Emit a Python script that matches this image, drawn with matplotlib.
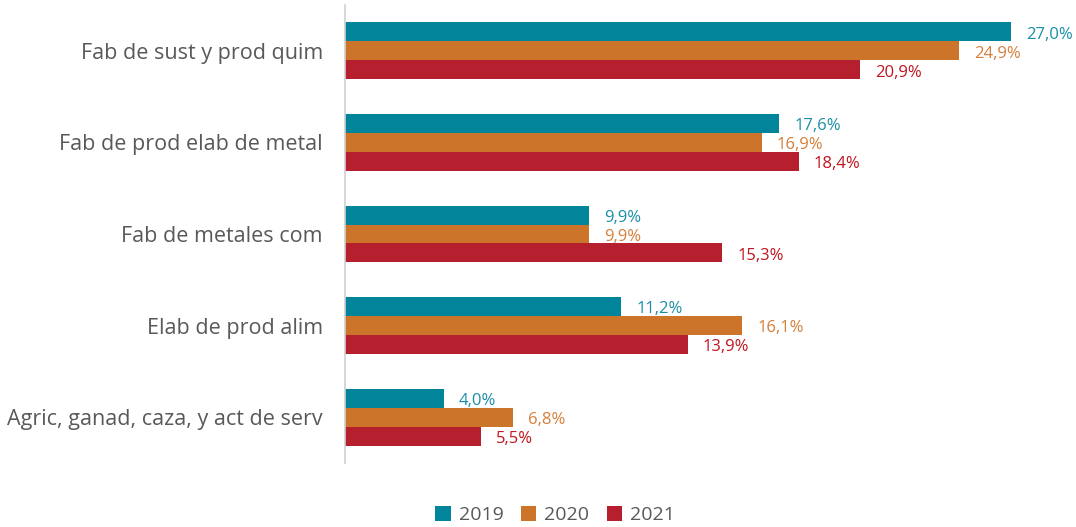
import numpy as np
import matplotlib
matplotlib.use("Agg")
from matplotlib import pyplot as plt

plt.rcParams['font.family'] = ['Open Sans', 'DejaVu Sans']

categories = ['Fab de sust y prod quim', 'Fab de prod elab de metal', 'Fab de metales com',
              'Elab de prod alim', 'Agric, ganad, caza, y act de serv']
years = ['2019', '2020', '2021']
v2019 = [27.0, 17.6, 9.9, 11.2, 4.0]
v2020 = [24.9, 16.9, 9.9, 16.1, 6.8]
v2021 = [20.9, 18.4, 15.3, 13.9, 5.5]

bar_colors = ['#02849B', '#CC752A', '#B51F2E']
text_colors = ['#1A8EA6', '#D47F3A', '#C0141E']

fig = plt.figure(figsize=(10.76, 5.27), dpi=100)
ax = fig.add_axes([345 / 1076, 1 - 463 / 527, (1060 - 345) / 1076, (463 - 5) / 527])

y = np.arange(len(categories))[::-1]
h = 0.207
for i, (vals, c, tc) in enumerate(zip([v2019, v2020, v2021], bar_colors, text_colors)):
    pos = y + h - i * h
    ax.barh(pos, vals, height=h, color=c, label=years[i])
    for p, v in zip(pos, vals):
        ax.annotate(f'{v:.1f}%'.replace('.', ','), (v, p), xytext=(11, -2),
                    textcoords='offset points', ha='left', va='center',
                    color=tc, fontsize=12)

ax.set_xlim(0, 29)
ax.set_ylim(-0.5, len(categories) - 0.5)
ax.set_yticks(y)
ax.set_yticklabels(categories, fontsize=15.5, color='#595959')
ax.tick_params(axis='y', length=0, pad=16)
ax.set_xticks([])
for s in ['top', 'right', 'bottom']:
    ax.spines[s].set_visible(False)
ax.spines['left'].set_color('#D0D0D0')
ax.spines['left'].set_linewidth(1.2)

leg = fig.legend(loc='center', bbox_to_anchor=(555 / 1076, 1 - 515 / 527), ncol=3,
                 frameon=False, fontsize=14, handlelength=0.8, handleheight=0.8,
                 columnspacing=0.9, handletextpad=0.4)
for t in leg.get_texts():
    t.set_color('#595959')

fig.savefig('out.png', dpi=100)
